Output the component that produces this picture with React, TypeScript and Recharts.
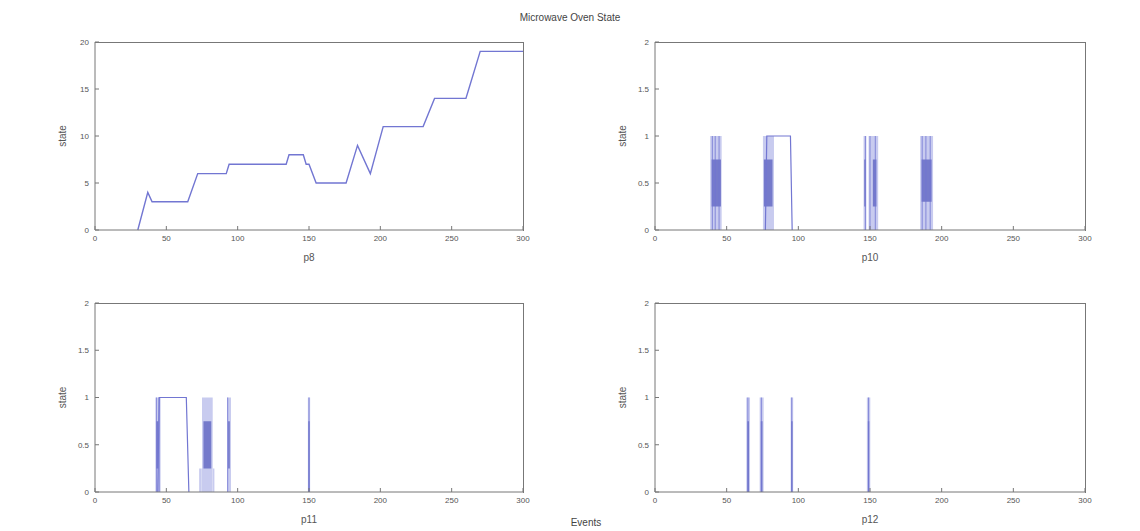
import React from "react";
import {
  ComposedChart,
  Line,
  Area,
  XAxis,
  YAxis,
} from "recharts";

// axis ticks
const X_TICKS = [0, 50, 100, 150, 200, 250, 300];
const STATE_TICKS = [0, 5, 10, 15, 20];
const EVENT_TICKS = [0, 0.5, 1, 1.5, 2];

// p8 state trace (events, state)
const p8X = [30, 37, 40, 65, 72, 92, 94, 134, 136, 146, 148, 150, 155, 176, 184, 193, 202, 230, 238, 260, 262, 270, 300];
const p8Y = [0, 4, 3, 3, 6, 6, 7, 7, 8, 8, 7, 7, 5, 5, 9, 6, 11, 11, 14, 14, 15, 19, 19];

// event plots: light columns [from, to, top], dark bands [from, to, low, high],
// spike positions, and an outline trace
const p10Light = [[38.5, 46.5, 1], [75.3, 83, 1], [145.5, 147.5, 1], [149, 155.7, 1], [185, 194, 1]];
const p10Dark = [[39.5, 46, 0.25, 0.75], [76, 82, 0.25, 0.75], [146, 147, 0.25, 0.75], [152, 154.5, 0.25, 0.75], [186, 193, 0.3, 0.75]];
const p10Spikes = [40, 42, 44.7, 146.8, 150, 153.7, 186.4, 189, 192];
const p10BoxX = [77, 78, 94.5, 95.7];
const p10BoxY = [0, 1, 1, 0];

const p11Light = [[42.5, 46, 1], [73, 74.8, 0.25], [75, 82.5, 1], [82.7, 83.7, 0.25], [92.6, 95.3, 1], [149.2, 150.8, 1]];
const p11Dark = [[43, 44.5, 0.25, 0.75], [76, 81.5, 0.25, 0.75], [93.3, 94.5, 0.25, 0.75], [149.5, 150.5, 0, 0.75]];
const p11Spikes = [43, 45, 93, 150];
const p11BoxX = [44, 45, 64, 65.8];
const p11BoxY = [0, 1, 1, 0];

const p12Light = [[63.7, 66.3, 1], [73, 75.8, 1], [94.6, 96.4, 1], [147.8, 150.2, 1]];
const p12Dark = [[64.4, 65.6, 0, 0.75], [73.8, 75, 0, 0.75], [95, 96, 0, 0.75], [148.5, 149.5, 0, 0.75]];
const p12Spikes = [64.8, 74.2, 95.4, 149];
const p12BoxX: number[] = [];
const p12BoxY: number[] = [];

const LINE = "#7276d2";
const LIGHT = "#c8cbef";
const DARK = "#666cc4";
const AXIS = "#777";

const ML = 50;
const MT = 6;
const MR = 16;
const XH = 34;

const toLight = (rows: number[][]) => {
  const out: { x: number; y: number | null }[] = [];
  rows.forEach((r, i) => {
    out.push({ x: r[0], y: r[2] }, { x: r[1], y: r[2] });
    if (i < rows.length - 1) out.push({ x: (r[1] + rows[i + 1][0]) / 2, y: null });
  });
  return out;
};

const toDark = (rows: number[][]) => {
  const out: { x: number; r: number[] | null }[] = [];
  rows.forEach((r, i) => {
    out.push({ x: r[0], r: [r[2], r[3]] }, { x: r[1], r: [r[2], r[3]] });
    if (i < rows.length - 1) out.push({ x: (r[1] + rows[i + 1][0]) / 2, r: null });
  });
  return out;
};

const toSpikes = (xs: number[]) => {
  const out: { x: number; y: number | null }[] = [];
  xs.forEach((x) => {
    out.push({ x, y: 0 }, { x, y: 1 }, { x, y: null });
  });
  return out;
};

const zip = (xs: number[], ys: number[]) => xs.map((x, i) => ({ x, y: ys[i] }));

const fmt = (v: number) => String(v);

interface PlotProps {
  left: number;
  top: number;
  w: number;
  h: number;
  yTicks: number[];
  xLabel: string;
  children: React.ReactNode;
}

function Plot({ left, top, w, h, yTicks, xLabel, children }: PlotProps) {
  const yMax = yTicks[yTicks.length - 1];
  return (
    <>
      <div style={{ position: "absolute", left: left - ML, top: top - MT }}>
        <ComposedChart
          width={ML + w + MR}
          height={MT + h + XH}
          margin={{ top: MT, right: MR, left: 0, bottom: 0 }}
        >
          <XAxis
            dataKey="x"
            type="number"
            domain={[0, 300]}
            ticks={X_TICKS}
            height={XH}
            stroke={AXIS}
            tickSize={-4}
            tickMargin={9}
            tick={{ fontSize: 8, fill: "#555" }}
            label={{ value: xLabel, position: "insideBottom", offset: 3, fontSize: 10, fill: "#555" }}
          />
          <YAxis
            type="number"
            domain={[0, yMax]}
            ticks={yTicks}
            width={ML}
            stroke={AXIS}
            tickSize={-4}
            tickMargin={10}
            tickFormatter={fmt}
            tick={{ fontSize: 8, fill: "#555" }}
            label={{ value: "state", angle: -90, position: "center", dx: -8, fontSize: 10, fill: "#555" }}
          />
          {children}
        </ComposedChart>
      </div>
      {/* top and right edges of the axes box */}
      <div
        style={{
          position: "absolute",
          left: left - 0.5,
          top: top - 0.5,
          width: w,
          height: h,
          borderTop: `1px solid ${AXIS}`,
          borderRight: `1px solid ${AXIS}`,
          pointerEvents: "none",
        }}
      />
    </>
  );
}

function EventPlot(props: {
  left: number;
  top: number;
  w: number;
  h: number;
  xLabel: string;
  light: number[][];
  dark: number[][];
  spikes: number[];
  boxX: number[];
  boxY: number[];
}) {
  const { light, dark, spikes, boxX, boxY, ...rest } = props;
  return (
    <Plot {...rest} yTicks={EVENT_TICKS}>
      <Area
        data={toLight(light)}
        dataKey="y"
        type="linear"
        stroke="none"
        fill={LIGHT}
        fillOpacity={1}
        isAnimationActive={false}
      />
      <Area
        data={toDark(dark)}
        dataKey="r"
        type="linear"
        stroke="none"
        fill={DARK}
        fillOpacity={0.85}
        isAnimationActive={false}
      />
      <Line
        data={toSpikes(spikes)}
        dataKey="y"
        type="linear"
        stroke={LINE}
        strokeWidth={1}
        strokeOpacity={0.8}
        dot={false}
        isAnimationActive={false}
      />
      {boxX.length > 0 && (
        <Line
          data={zip(boxX, boxY)}
          dataKey="y"
          type="linear"
          stroke={LINE}
          strokeWidth={1.2}
          dot={false}
          isAnimationActive={false}
        />
      )}
    </Plot>
  );
}

export default function App() {
  return (
    <div
      style={{
        position: "absolute",
        left: 0,
        top: 0,
        width: 1140,
        height: 531,
        background: "#fff",
        fontFamily: "'Liberation Sans', Arial, sans-serif",
      }}
    >
      <div style={{ position: "absolute", left: 0, width: 1140, top: 12, textAlign: "center", fontSize: 10, color: "#444" }}>
        Microwave Oven State
      </div>
      <Plot left={95} top={42} w={428} h={188} yTicks={STATE_TICKS} xLabel="p8">
        <Line
          data={zip(p8X, p8Y)}
          dataKey="y"
          type="linear"
          stroke={LINE}
          strokeWidth={1.4}
          dot={false}
          isAnimationActive={false}
        />
      </Plot>
      <EventPlot left={655} top={42} w={430} h={188} xLabel="p10" light={p10Light} dark={p10Dark} spikes={p10Spikes} boxX={p10BoxX} boxY={p10BoxY} />
      <EventPlot left={95} top={303} w={428} h={189} xLabel="p11" light={p11Light} dark={p11Dark} spikes={p11Spikes} boxX={p11BoxX} boxY={p11BoxY} />
      <EventPlot left={655} top={303} w={430} h={189} xLabel="p12" light={p12Light} dark={p12Dark} spikes={p12Spikes} boxX={p12BoxX} boxY={p12BoxY} />
      <div style={{ position: "absolute", left: 560, top: 517, width: 52, textAlign: "center", fontSize: 10, color: "#444" }}>
        Events
      </div>
    </div>
  );
}
